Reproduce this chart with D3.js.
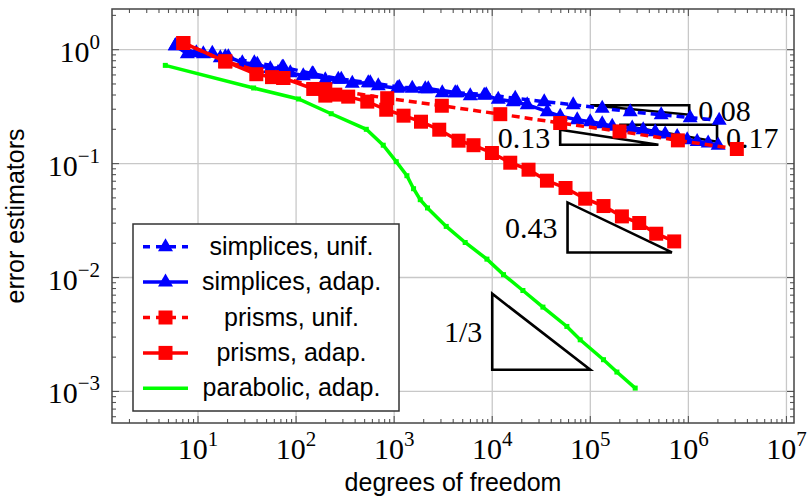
<!DOCTYPE html>
<html>
<head>
    <meta charset='utf-8'>
    <title>error estimators</title>
    <style>
        body { margin: 0; background: #fff; }
    </style>
</head>
<body>
<svg width="807" height="498"></svg>
<script src="https://d3js.org/d3.v7.min.js"></script>
<script>
    // data (dof, estimator)
    const simplicesUnifDof = [5.87, 9.61, 18.98, 37.5, 74.1, 146.3, 288.9, 570.7, 1127, 2226, 4398, 8685, 17160, 33900, 66950, 132200, 255100, 528000, 1.043e6, 2.061e6]
    const simplicesUnifErr = [1.084, 0.941, 0.868, 0.769, 0.702, 0.616, 0.551, 0.513, 0.469, 0.455, 0.4195, 0.4026, 0.3751, 0.3495, 0.329, 0.3065, 0.2856, 0.2688, 0.2529, 0.2404]

    const simplicesAdapDof = [5.87, 7.78, 11.33, 13.99, 16.88, 20.37, 28.29, 40.23, 54.6, 72.3, 87.3, 118.4, 149.8, 198.5, 269.3, 374, 544.5, 688.4, 1076, 1529, 2075, 3093, 4196, 5967, 8287, 11510, 16380, 22740, 36370, 49350, 73550, 99770, 132200, 167200, 267400, 346100, 458800, 580000, 768900, 972300, 1.229e6, 1.591e6, 2.012e6]
    const simplicesAdapErr = [1.084, 0.922, 0.922, 0.932, 0.851, 0.868, 0.769, 0.746, 0.681, 0.702, 0.628, 0.591, 0.609, 0.545, 0.551, 0.508, 0.513, 0.483, 0.459, 0.459, 0.455, 0.4195, 0.4195, 0.3946, 0.3986, 0.3675, 0.3495, 0.329, 0.2856, 0.2608, 0.2428, 0.2332, 0.224, 0.213, 0.2054, 0.1984, 0.1906, 0.1819, 0.1733, 0.1622, 0.1566, 0.1517, 0.145]

    const prismsUnifDof = [7.08, 18.97, 74.1, 198.6, 849, 3063, 12080, 49300, 198600, 781600, 3.12e6]
    const prismsUnifErr = [1.145, 0.789, 0.564, 0.45, 0.375, 0.322, 0.2715, 0.2272, 0.1917, 0.1599, 0.1343]

    const prismsAdapDof = [7.08, 18.97, 39.3, 56.8, 74.1, 149.6, 198.6, 251, 340, 532, 830, 1247, 1877, 2882, 4534, 6446, 9930, 15270, 23450, 36130, 55900, 88700, 136400, 210000, 315400, 470000, 716800]
    const prismsAdapErr = [1.145, 0.789, 0.609, 0.574, 0.564, 0.452, 0.395, 0.403, 0.387, 0.35, 0.297, 0.2634, 0.2332, 0.1984, 0.1589, 0.145, 0.1239, 0.1018, 0.0884, 0.0708, 0.0611, 0.0492, 0.0424, 0.0344, 0.0301, 0.02424, 0.02074]

    const parabolicDof = [4.64, 36.9, 106, 228, 520, 774, 1050, 1349, 1577, 1845, 2188, 3396, 5300, 8830, 13030, 20550, 32880, 57700, 78900, 136400, 186700, 287000]
    const parabolicErr = [0.728, 0.461, 0.369, 0.274, 0.2, 0.145, 0.104, 0.0783, 0.0602, 0.0482, 0.0408, 0.0281, 0.0203, 0.0145, 0.0106, 0.00769, 0.0055, 0.00372, 0.00284, 0.0019, 0.00148, 0.00107]

    // slope triangles: [x0, x1, yHigh, yLow], corner = where the right angle sits
    const slopeLabels = ["1/3", "0.43", "0.13", "0.08", "0.17"]
    const slopeBoxes = [
        [1e4, 1e5, 7.2e-3, 1.55e-3],
        [58600, 679000, 0.0456, 0.0166],
        [49300, 495000, 0.1984, 0.1465],
        [1e5, 1.02e6, 0.3256, 0.2687],
        [197000, 1.96e6, 0.2196, 0.1557]
    ]
    const slopeCorner = ["bottomLeft", "bottomLeft", "bottomLeft", "topRight", "topRight"]
    const slopeLabelShift = [0, 0, 0, 1, 4]

    const xTickValues = [1e1, 1e2, 1e3, 1e4, 1e5, 1e6, 1e7]
    const yTickValues = [1e0, 1e-1, 1e-2, 1e-3]

    const legendLabels = ["simplices, unif.", "simplices, adap.", "prisms, unif.", "prisms, adap.", "parabolic, adap."]

    const width = 807
    const height = 498
    const margin = {top: 9, right: 13, bottom: 75, left: 112}

    const blue = "#0000ff", red = "#ff0000", green = "#00ff00"
    const serif = "'Liberation Serif', 'DejaVu Serif', serif"
    const sans = "'Liberation Sans', Arial, sans-serif"

    const x = d3.scaleLog()
        .domain([Math.pow(10, 0.123), Math.pow(10, 7.077)])
        .range([margin.left, width - margin.right])

    const y = d3.scaleLog()
        .domain([Math.pow(10, -3.277), Math.pow(10, 0.357)])
        .range([height - margin.bottom, margin.top])

    const svg = d3.select("svg")

    const x0 = x.range()[0], x1 = x.range()[1]
    const y0 = y.range()[0], y1 = y.range()[1]

    // grid
    const grid = svg.append("g")
        .attr("stroke", "#c8c8c8")
        .attr("stroke-width", 1.3)
    grid.selectAll("line.gx")
        .data(xTickValues)
        .join("line")
        .attr("x1", d => x(d)).attr("x2", d => x(d))
        .attr("y1", y1).attr("y2", y0)
    grid.selectAll("line.gy")
        .data(yTickValues)
        .join("line")
        .attr("class", "gy")
        .attr("x1", x0).attr("x2", x1)
        .attr("y1", d => y(d)).attr("y2", d => y(d))

    // ticks (inside, all four sides)
    const minorX = []
    for (let k = 0; k <= 7; k++) for (let m = 1; m <= 9; m++) {
        const v = m * Math.pow(10, k)
        if (v > x.domain()[0] && v < x.domain()[1]) minorX.push({v, major: m === 1})
    }
    const minorY = []
    for (let k = -4; k <= 0; k++) for (let m = 1; m <= 9; m++) {
        const v = m * Math.pow(10, k)
        if (v > y.domain()[0] && v < y.domain()[1]) minorY.push({v, major: m === 1})
    }
    const ticks = svg.append("g")
        .attr("stroke", "#555")
        .attr("stroke-width", 1.1)
    minorX.forEach(t => {
        const len = t.major ? 7 : 4
        ticks.append("line").attr("x1", x(t.v)).attr("x2", x(t.v)).attr("y1", y0).attr("y2", y0 - len)
        ticks.append("line").attr("x1", x(t.v)).attr("x2", x(t.v)).attr("y1", y1).attr("y2", y1 + len)
    })
    minorY.forEach(t => {
        const len = t.major ? 7 : 4
        ticks.append("line").attr("x1", x0).attr("x2", x0 + len).attr("y1", y(t.v)).attr("y2", y(t.v))
        ticks.append("line").attr("x1", x1).attr("x2", x1 - len).attr("y1", y(t.v)).attr("y2", y(t.v))
    })

    // frame
    svg.append("rect")
        .attr("x", x0).attr("y", y1)
        .attr("width", x1 - x0).attr("height", y0 - y1)
        .attr("fill", "none")
        .attr("stroke", "#444")
        .attr("stroke-width", 1.5)

    // tick labels
    const xl = svg.append("g")
        .attr("font-family", serif)
        .attr("font-size", 30)
        .attr("fill", "black")
        .attr("text-anchor", "middle")
    xTickValues.forEach(v => {
        const t = xl.append("text").attr("x", x(v)).attr("y", 459)
        t.append("tspan").text("10")
        t.append("tspan").attr("dy", -13).attr("font-size", 21).text(Math.round(Math.log10(v)))
    })
    const yl = svg.append("g")
        .attr("font-family", serif)
        .attr("font-size", 30)
        .attr("fill", "black")
        .attr("text-anchor", "end")
    yTickValues.forEach(v => {
        const e = Math.round(Math.log10(v))
        const t = yl.append("text").attr("x", 100).attr("y", y(v) + 12)
        t.append("tspan").text("10")
        t.append("tspan").attr("dy", -13).attr("font-size", 21).text(e < 0 ? "\u2212" + (-e) : e)
    })

    // axis titles
    svg.append("text")
        .attr("x", (x0 + x1) / 2).attr("y", 491)
        .attr("text-anchor", "middle")
        .attr("font-family", sans).attr("font-size", 25)
        .text("degrees of freedom")
    svg.append("text")
        .attr("transform", `translate(24,${(y0 + y1) / 2}) rotate(-90)`)
        .attr("text-anchor", "middle")
        .attr("font-family", sans).attr("font-size", 25)
        .text("error estimators")

    // slope triangles
    const tri = svg.append("g")
    slopeBoxes.forEach((b, i) => {
        const [ax, bx, hy, ly] = b
        let pts
        if (slopeCorner[i] === "bottomLeft") {
            pts = [[x(ax), y(hy)], [x(ax), y(ly)], [x(bx), y(ly)]]
        } else {
            pts = [[x(ax), y(hy)], [x(bx), y(hy)], [x(bx), y(ly)]]
        }
        tri.append("path")
            .attr("d", d3.line()(pts) + "Z")
            .attr("fill", "none")
            .attr("stroke", "black")
            .attr("stroke-width", 2.6)
        const left = slopeCorner[i] === "bottomLeft"
        tri.append("text")
            .attr("x", left ? x(ax) - 10 : x(bx) + 9)
            .attr("y", (y(hy) + y(ly)) / 2 + slopeLabelShift[i])
            .attr("dy", "0.35em")
            .attr("text-anchor", left ? "end" : "start")
            .attr("font-family", serif)
            .attr("font-size", 30)
            .text(slopeLabels[i])
    })

    const trianglePath = "M0,-8.5L7.5,4.5L-7.5,4.5Z"
    const squarePath = "M-7,-7H7V7H-7Z"
    const tinyPath = "M-2.5,-2.5H2.5V2.5H-2.5Z"

    const series = [
        {dof: simplicesUnifDof, err: simplicesUnifErr, color: blue, dash: "8 5", mark: trianglePath},
        {dof: simplicesAdapDof, err: simplicesAdapErr, color: blue, dash: null, mark: trianglePath},
        {dof: prismsUnifDof, err: prismsUnifErr, color: red, dash: "8 5", mark: squarePath},
        {dof: prismsAdapDof, err: prismsAdapErr, color: red, dash: null, mark: squarePath},
        {dof: parabolicDof, err: parabolicErr, color: green, dash: null, mark: tinyPath}
    ]

    const line = d3.line().x(d => x(d[0])).y(d => y(d[1]))

    series.forEach(s => {
        const pts = s.dof.map((d, i) => [d, s.err[i]])
        const g = svg.append("g")
        g.append("path")
            .attr("d", line(pts))
            .attr("fill", "none")
            .attr("stroke", s.color)
            .attr("stroke-width", 3.5)
            .attr("stroke-dasharray", s.dash)
        g.selectAll("path.m")
            .data(pts)
            .join("path")
            .attr("class", "m")
            .attr("d", s.mark)
            .attr("transform", d => `translate(${x(d[0])},${y(d[1])})`)
            .attr("fill", s.color)
    })

    // legend
    const lg = svg.append("g")
    lg.append("rect")
        .attr("x", 133).attr("y", 224)
        .attr("width", 266).attr("height", 187)
        .attr("fill", "white")
        .attr("stroke", "#333")
        .attr("stroke-width", 1.5)
    legendLabels.forEach((label, i) => {
        const s = series[i]
        const cy = 246.7 + i * 35.4
        lg.append("line")
            .attr("x1", 143).attr("x2", 188)
            .attr("y1", cy).attr("y2", cy)
            .attr("stroke", s.color)
            .attr("stroke-width", 3.5)
            .attr("stroke-dasharray", s.dash ? "7 6" : null)
        if (i < 4) {
            lg.append("path")
                .attr("d", s.mark)
                .attr("transform", `translate(165.5,${cy})`)
                .attr("fill", s.color)
        }
        lg.append("text")
            .attr("x", 291.5).attr("y", cy + 8)
            .attr("text-anchor", "middle")
            .attr("font-family", sans).attr("font-size", 25)
            .text(label)
    })
</script>
</body>
</html>
